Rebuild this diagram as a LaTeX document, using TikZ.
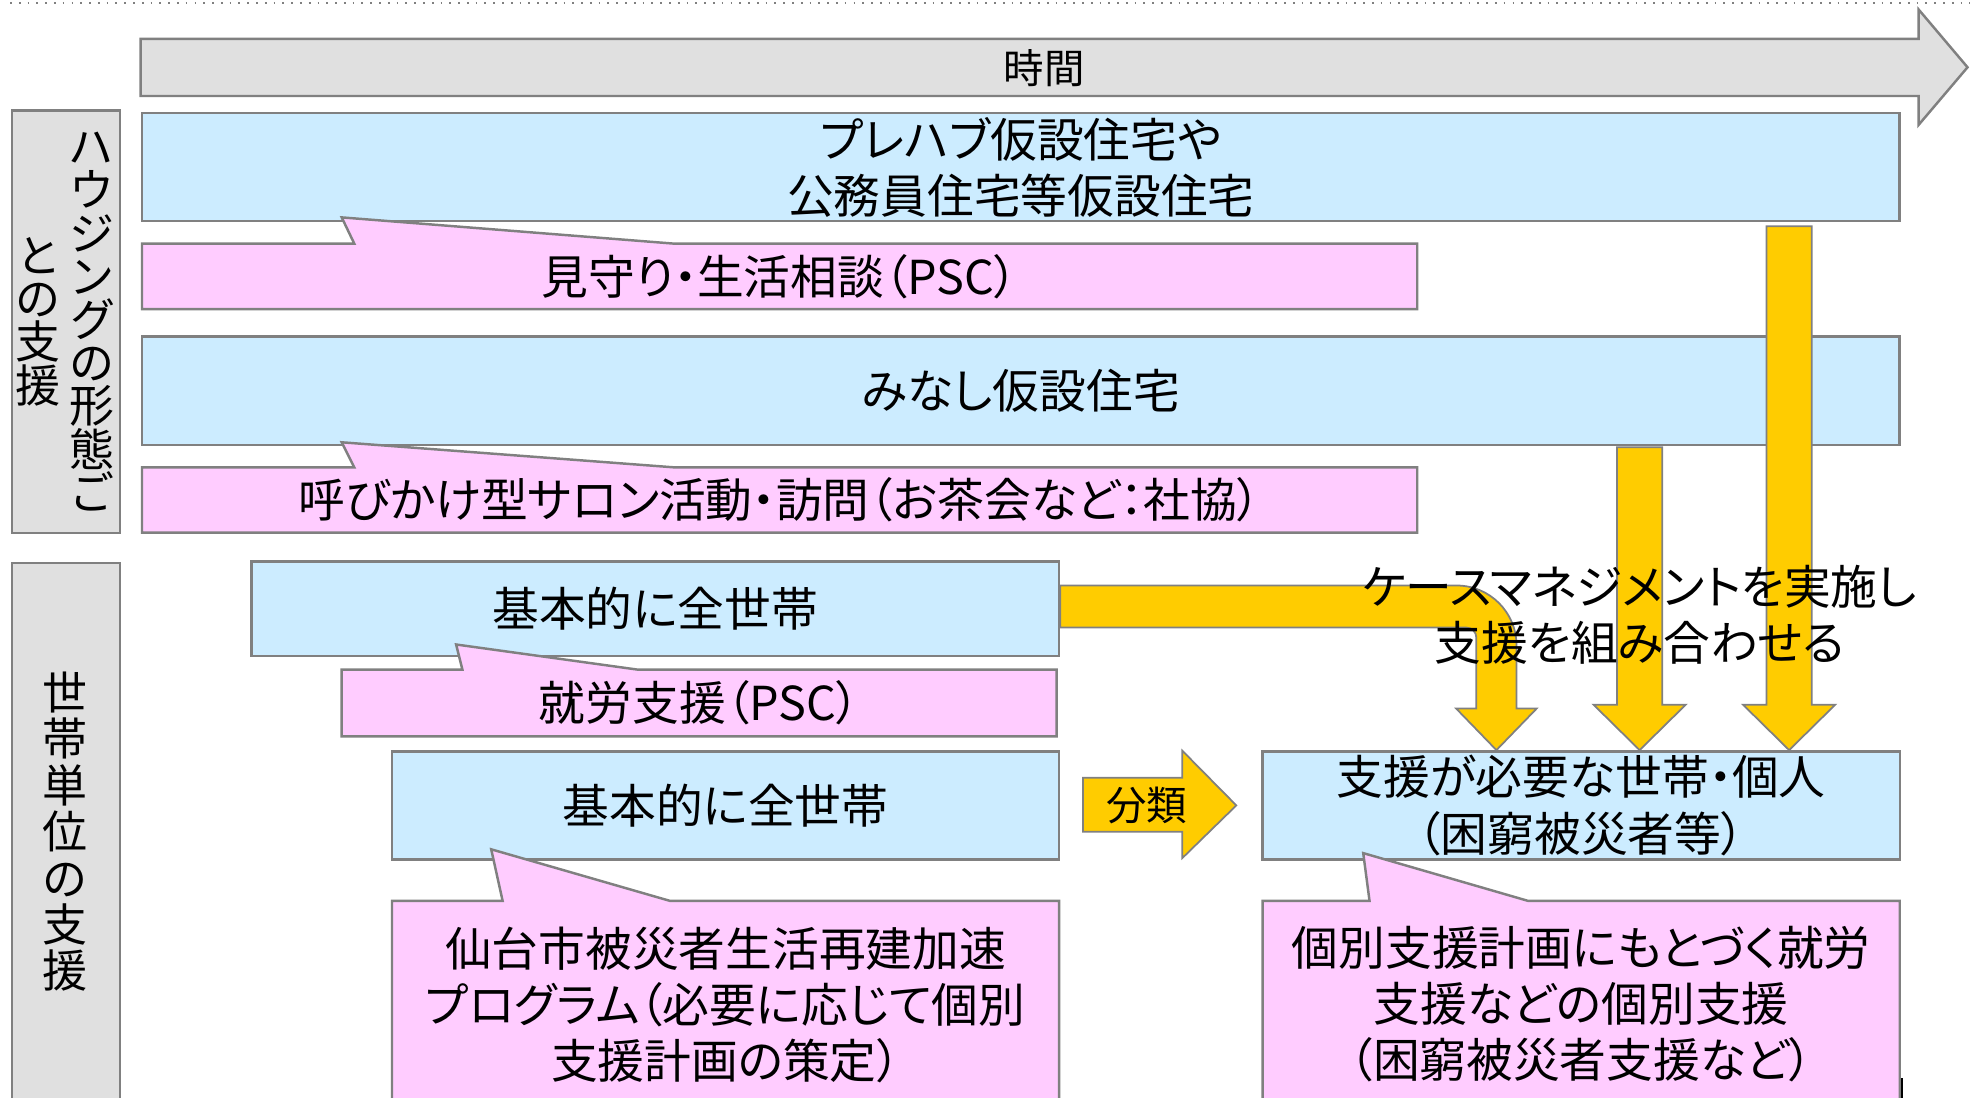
\documentclass[tikz,border=0pt]{standalone}
\usepackage{fontspec}
\setmainfont{Noto Sans CJK JP}[RawFeature=+palt]
\definecolor{boxblue}{HTML}{CCECFF}
\definecolor{boxpink}{HTML}{FFCCFF}
\definecolor{boxgray}{HTML}{E0E0E0}
\definecolor{edgegray}{HTML}{808080}
\definecolor{yellowfill}{HTML}{FFCC00}
\newcommand\boxfont{\fontsize{13.3}{16}\selectfont}
\newcommand\smallboxfont{\fontsize{11.5}{14}\selectfont}
\lineskiplimit=-20pt
\tikzset{
	edgeline/.style={draw=edgegray, line width=0.7pt},
	bluebox/.style={edgeline, fill=boxblue, inner sep=0pt, align=center, font=\boxfont},
	pinkbox/.style={edgeline, fill=boxpink},
	graybox/.style={edgeline, fill=boxgray},
	yarrow/.style={draw=edgegray, line width=0.5pt, fill=yellowfill},
	boxtext/.style={inner sep=0pt, align=center, font=\boxfont},
	vtext/.style={inner sep=0pt, align=center, font=\fontsize{12.8}{12.3}\selectfont},
}
\begin{document}
\begin{tikzpicture}
	\useasboundingbox (0,0) rectangle (19.70,-10.98);
	\clip (0,0) rectangle (19.70,-10.98);
	\draw[edgegray, dotted, line width=0.5pt] (0.10,-0.03) -- (19.70,-0.03);
	% time axis
	\draw[graybox] (1.407,-0.389) -- (19.185,-0.389) -- (19.185,-0.094) -- (19.675,-0.673) -- (19.185,-1.250) -- (19.185,-0.960) -- (1.407,-0.960) -- cycle;
	\node[boxtext, font=\smallboxfont] (timelabel) at (10.44,-0.678) {時間};
	% row labels
	\node[graybox, minimum width=1.083cm, minimum height=4.221cm] (housing) at (0.659,-3.217) {};
	\node[vtext] (housingR) at (0.917,-3.216) {ハ\\ウ\\ジ\\ン\\グ\\の\\形\\態\\ご};
	\node[vtext] (housingL) at (0.377,-3.216) {と\\の\\支\\援};
	\node[graybox, minimum width=1.083cm, minimum height=5.6cm, anchor=north] (household) at (0.659,-5.616) {};
	\node[vtext, font=\fontsize{12.8}{13.2}\selectfont] (householdT) at (0.653,-8.317) {世\\帯\\単\\位\\の\\支\\援};
	% housing rows
	\node[bluebox, minimum width=17.577cm, minimum height=1.080cm] (prefab) at (10.208,-1.671) {プレハブ仮設住宅や\\公務員住宅等仮設住宅};
	\draw[pinkbox] (1.420,-2.437) -- (3.543,-2.437) -- (3.417,-2.174) -- (6.747,-2.437) -- (14.172,-2.437) -- (14.172,-3.091) -- (1.420,-3.091) -- cycle;
	\node[boxtext] (watch) at (7.796,-2.764) {見守り・生活相談（PSC）};
	\node[bluebox, minimum width=17.577cm, minimum height=1.081cm] (minashi) at (10.208,-3.907) {みなし仮設住宅};
	\draw[pinkbox] (1.420,-4.674) -- (3.543,-4.674) -- (3.417,-4.423) -- (6.747,-4.674) -- (14.172,-4.674) -- (14.172,-5.327) -- (1.420,-5.327) -- cycle;
	\node[boxtext] (salon) at (7.796,-5.000) {呼びかけ型サロン活動・訪問（お茶会など：社協）};
	% household rows
	\node[bluebox, minimum width=8.078cm, minimum height=0.942cm] (allhhA) at (6.552,-6.087) {基本的に全世帯};
	\draw[pinkbox] (3.417,-6.697) -- (4.624,-6.697) -- (4.561,-6.445) -- (6.382,-6.697) -- (10.566,-6.697) -- (10.566,-7.363) -- (3.417,-7.363) -- cycle;
	\node[boxtext] (jobpsc) at (6.992,-7.030) {就労支援（PSC）};
	\node[bluebox, minimum width=6.671cm, minimum height=1.081cm] (allhhB) at (7.256,-8.054) {基本的に全世帯};
	\draw[pinkbox] (3.920,-9.008) -- (5.026,-9.008) -- (4.912,-8.493) -- (6.697,-9.008) -- (10.591,-9.008) -- (10.591,-11.2) -- (3.920,-11.2) -- cycle;
	\node[boxtext] (sendai) at (7.256,-10.051) {仙台市被災者生活再建加速\\プログラム（必要に応じて個別\\支援計画の策定）};
	\node[bluebox, minimum width=6.370cm, minimum height=1.081cm] (needy) at (15.812,-8.054) {支援が必要な世帯・個人\\（困窮被災者等）};
	\draw[pinkbox] (12.627,-9.008) -- (13.695,-9.008) -- (13.632,-8.531) -- (15.278,-9.008) -- (18.997,-9.008) -- (18.997,-11.2) -- (12.627,-11.2) -- cycle;
	\node[boxtext] (plan) at (15.812,-10.04) {個別支援計画にもとづく就労\\支援などの個別支援\\（困窮被災者支援など）};
	\draw[black, line width=0.6pt] (19.022,-10.78) -- (19.022,-10.98);
	% yellow arrows
	\foreach \x/\s in {16.396/4.473, 17.891/2.262}{
		\draw[yarrow] (\x-0.226,-\s) -- (\x+0.226,-\s) -- (\x+0.226,-7.048) -- (\x+0.46,-7.048) -- (\x,0 |- needy.north) -- (\x-0.46,-7.048) -- (\x-0.226,-7.048) -- cycle;
	}
	\draw[yarrow] (allhhA.east |- 0,-5.855) [rounded corners=0.6cm]-- (15.165,-5.855) [sharp corners]-- (15.165,-7.086) -- (15.366,-7.086) -- (14.964,0 |- needy.north) -- (14.562,-7.086) -- (14.763,-7.086) [rounded corners=0.1cm]-- (14.763,-6.276) [sharp corners]-- (allhhA.east |- 0,-6.276) -- cycle;
	\draw[yarrow] (10.830,-7.777) -- (11.823,-7.777) -- (11.823,-7.507) -- (12.363,0 |- needy.west) -- (11.823,-8.581) -- (11.823,-8.317) -- (10.830,-8.317) -- cycle;
	\node[boxtext, font=\smallboxfont] (sortlabel) at (11.466,-8.050) {分類};
	\node[boxtext] (casemgmt) at (16.396,-6.150) {ケースマネジメントを実施し\\支援を組み合わせる};
\end{tikzpicture}
\end{document}
